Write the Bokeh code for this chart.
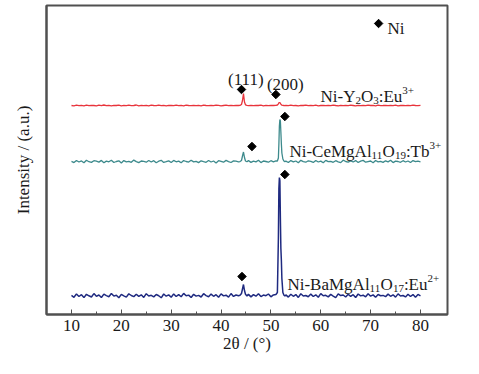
from bokeh.plotting import figure
from bokeh.models import Label, FixedTicker, Range1d
from bokeh.embed import file_html
from bokeh.resources import INLINE

# ---------------- data ----------------
two_theta = [
    10.0, 10.5, 11.0, 11.5, 12.0, 12.5, 13.0, 13.5, 14.0, 14.5, 15.0, 15.5, 16.0, 16.5, 17.0, 17.5, 18.0, 18.5, 19.0, 19.5,
    20.0, 20.5, 21.0, 21.5, 22.0, 22.5, 23.0, 23.5, 24.0, 24.5, 25.0, 25.5, 26.0, 26.5, 27.0, 27.5, 28.0, 28.5, 29.0, 29.5,
    30.0, 30.5, 31.0, 31.5, 32.0, 32.5, 33.0, 33.5, 34.0, 34.5, 35.0, 35.5, 36.0, 36.5, 37.0, 37.5, 38.0, 38.5, 39.0, 39.5,
    40.0, 40.5, 41.0, 41.5, 42.0, 42.5, 43.0, 43.5,
    43.8, 44.1, 44.3, 44.5, 44.7, 44.9, 45.2,
    45.5, 46.0, 46.5, 47.0, 47.5, 48.0, 48.5, 49.0, 49.5, 50.0, 50.5, 51.0,
    51.3, 51.5, 51.6, 51.7, 51.8, 51.9, 52.0, 52.1, 52.2, 52.4, 52.6, 52.8,
    53.0, 53.5, 54.0, 54.5, 55.0, 55.5, 56.0, 56.5, 57.0, 57.5, 58.0, 58.5, 59.0, 59.5, 60.0, 60.5, 61.0, 61.5, 62.0, 62.5,
    63.0, 63.5, 64.0, 64.5, 65.0, 65.5, 66.0, 66.5, 67.0, 67.5, 68.0, 68.5, 69.0, 69.5, 70.0, 70.5, 71.0, 71.5, 72.0, 72.5,
    73.0, 73.5, 74.0, 74.5, 75.0, 75.5, 76.0, 76.5, 77.0, 77.5, 78.0, 78.5, 79.0, 79.5, 80.0,
]

# Ni-BaMgAl11O17:Eu2+ (relative intensity, a.u.)
bam_intensity = [
    3.1, 1.2, 4.6, 2.0, 3.8, 0.9, 4.2, 2.7, 1.5, 4.9, 2.2, 3.5, 1.0, 4.4, 2.9, 1.8, 5.0, 2.4, 3.3, 0.8,
    4.1, 2.6, 1.4, 4.7, 3.0, 1.9, 4.3, 2.1, 3.7, 1.1, 4.8, 2.5, 3.2, 1.6, 4.0, 2.8, 0.7, 4.5, 2.3, 3.6,
    1.3, 4.6, 2.0, 3.9, 1.7, 5.1, 2.7, 3.4, 1.0, 4.2, 2.4, 3.1, 1.5, 4.8, 2.9, 1.8, 4.4, 2.2, 3.8, 1.2,
    4.6, 2.6, 3.3, 1.4, 4.9, 2.1, 3.5, 2.8,
    3.2, 5.0, 9.5, 14.0, 8.0, 4.2, 2.6,
    4.1, 1.6, 3.9, 2.3, 4.7, 1.9, 3.4, 2.8, 4.5, 1.7, 3.6, 4.0,
    6.0, 60.0, 110.0, 121.0, 118.0, 80.0, 50.0, 38.0, 20.0, 6.0, 3.5, 2.4,
    3.6, 1.4, 4.3, 2.2, 3.9, 1.1, 4.7, 2.5, 3.0, 1.8, 4.4, 2.0, 3.7, 1.3, 4.9, 2.7, 3.2, 1.6, 4.1, 2.4,
    0.9, 4.6, 2.9, 3.5, 1.5, 4.2, 2.1, 3.8, 1.0, 4.5, 2.6, 3.3, 1.7, 4.8, 2.3, 3.6, 1.2, 4.0, 2.8, 3.1,
    1.9, 4.4, 2.2, 3.7, 1.4, 4.6, 2.5, 3.0, 1.6, 4.3, 2.0, 3.9, 1.3, 4.1, 2.7,
]

# Ni-CeMgAl11O19:Tb3+
cmat_intensity = [
    2.6, 1.4, 3.5, 2.0, 3.1, 1.2, 3.7, 2.3, 1.6, 3.3, 2.8, 1.9, 3.6, 1.3, 2.9, 2.2, 3.8, 1.5, 2.5, 3.2,
    1.1, 3.4, 2.1, 2.7, 1.7, 3.9, 2.4, 1.4, 3.0, 2.6, 1.8, 3.5, 2.0, 3.3, 1.2, 2.8, 3.7, 1.6, 2.3, 3.1,
    1.5, 3.6, 2.2, 2.9, 1.3, 3.4, 2.5, 1.9, 3.8, 2.1, 2.7, 1.4, 3.2, 2.4, 1.7, 3.5, 2.0, 3.0, 1.1, 3.3,
    2.6, 1.8, 3.6, 2.3, 1.5, 3.1, 2.8, 2.2,
    2.4, 3.5, 8.0, 12.0, 6.5, 3.0, 2.2,
    3.4, 1.6, 2.9, 2.1, 3.7, 1.4, 3.0, 2.5, 1.8, 3.3, 2.2, 3.1,
    3.0, 6.0, 20.0, 38.0, 44.5, 43.0, 32.0, 20.0, 11.0, 5.0, 3.0, 2.4,
    2.8, 1.5, 3.4, 2.1, 3.0, 1.3, 3.7, 2.4, 1.8, 3.2, 2.6, 1.6, 3.5, 2.0, 2.9, 1.2, 3.6, 2.3, 2.7, 1.7,
    3.3, 2.2, 1.4, 3.8, 2.5, 1.9, 3.1, 2.0, 3.4, 1.5, 2.8, 3.6, 1.8, 2.4, 3.0, 1.3, 3.5, 2.2, 2.7, 1.6,
    3.2, 2.1, 3.7, 1.4, 2.9, 2.5, 1.7, 3.3, 2.0, 3.0, 1.5, 3.4, 2.3, 2.8, 2.1,
]

# Ni-Y2O3:Eu3+
yox_intensity = [
    1.5, 1.2, 1.8, 1.4, 1.6, 1.1, 1.9, 1.3, 1.7, 1.5, 1.2, 1.8, 1.4, 2.0, 1.3, 1.6, 1.1, 1.7, 1.5, 1.9,
    1.2, 1.6, 1.4, 1.8, 1.3, 1.5, 2.0, 1.2, 1.7, 1.4, 1.6, 1.1, 1.8, 1.5, 1.3, 1.9, 1.4, 1.6, 1.2, 1.7,
    1.5, 1.3, 1.8, 1.4, 1.6, 1.2, 1.9, 1.5, 1.3, 1.7, 1.4, 1.6, 1.1, 1.8, 1.5, 1.3, 1.7, 1.4, 1.9, 1.6,
    1.2, 1.5, 1.8, 1.3, 1.6, 1.4, 1.7, 1.5,
    1.6, 2.5, 6.5, 13.5, 5.0, 2.2, 1.7,
    1.4, 1.7, 1.3, 1.6, 1.5, 1.8, 1.2, 1.6, 1.4, 1.7, 1.5, 1.6,
    2.0, 3.2, 4.2, 4.5, 4.3, 3.6, 2.8, 2.2, 1.8, 1.6, 1.5, 1.4,
    1.6, 1.3, 1.8, 1.4, 1.5, 1.2, 1.7, 1.5, 1.9, 1.3, 1.6, 1.4, 1.8, 1.2, 1.5, 1.7, 1.3, 1.6, 1.4, 1.9,
    1.5, 1.2, 1.7, 1.4, 1.6, 1.3, 1.8, 1.5, 1.2, 1.6, 1.4, 1.7, 1.3, 1.9, 1.5, 1.6, 1.2, 1.8, 1.4, 1.5,
    1.7, 1.3, 1.6, 1.4, 1.9, 1.2, 1.5, 1.7, 1.3, 1.6, 1.4, 1.8, 1.5, 1.3, 1.6,
]

# vertical stacking offsets of the three patterns
bam_offset = 16.0
cmat_offset = 150.5
yox_offset = 207.5

# Ni reflection markers (2theta, stacked intensity)
ni_marker_x = [44.1, 51.0, 46.2, 52.8, 44.2, 52.8]
ni_marker_y = [225, 220, 168, 198, 38, 140]

x_ticks = [10, 20, 30, 40, 50, 60, 70, 80]
x_minor = [15, 25, 35, 45, 55, 65, 75]

FONT = "Liberation Serif"
TXT = "#1a1a1a"
FRAME = "#505050"

p = figure(width=463, height=358, output_backend="svg", toolbar_location=None,
           x_range=Range1d(4.99, 85.42), y_range=Range1d(0, 309),
           min_border_left=46, min_border_right=16, min_border_top=5, min_border_bottom=44)
p.xgrid.visible = False
p.ygrid.visible = False
p.background_fill_color = "white"
p.border_fill_color = "white"
p.outline_line_color = FRAME
p.outline_line_width = 2

xa = p.xaxis[0]
xa.ticker = FixedTicker(ticks=x_ticks, minor_ticks=x_minor)
xa.major_tick_in = 5
xa.major_tick_out = 0
xa.minor_tick_in = 3
xa.minor_tick_out = 0
xa.major_tick_line_color = FRAME
xa.minor_tick_line_color = FRAME
xa.axis_line_color = FRAME
xa.axis_line_width = 2
xa.major_label_text_font = FONT
xa.major_label_text_font_size = "17px"
xa.major_label_text_color = TXT
xa.major_label_standoff = 5
xa.axis_label = "2θ / (°)"
xa.axis_label_text_font = FONT
xa.axis_label_text_font_style = "normal"
xa.axis_label_text_font_size = "17px"
xa.axis_label_text_color = TXT
xa.axis_label_standoff = 0

ya = p.yaxis[0]
ya.ticker = FixedTicker(ticks=[])
ya.major_tick_line_color = None
ya.minor_tick_line_color = None
ya.axis_line_color = FRAME
ya.axis_line_width = 2
ya.axis_label = "Intensity / (a.u.)"
ya.axis_label_text_font = FONT
ya.axis_label_text_font_style = "normal"
ya.axis_label_text_font_size = "17px"
ya.axis_label_text_color = TXT
ya.axis_label_standoff = 14

p.line(two_theta, [v + bam_offset for v in bam_intensity], line_color="#1f2a80", line_width=1.5)
p.line(two_theta, [v + cmat_offset for v in cmat_intensity], line_color="#3d8a8c", line_width=1.3)
p.line(two_theta, [v + yox_offset for v in yox_intensity], line_color="#e8343c", line_width=1.3)

p.scatter(ni_marker_x, ni_marker_y, marker="square", angle=0.785398, size=6,
          fill_color="black", line_color="black")
p.scatter([71.6], [291], marker="square", angle=0.785398, size=6,
          fill_color="black", line_color="black")

W = {"N": 722, "i": 278, "-": 333, "Y": 722, "O": 722, ":": 278, "E": 611, "u": 500,
     "C": 667, "e": 444, "M": 889, "g": 500, "A": 722, "l": 278, "T": 611, "b": 500,
     "B": 667, "a": 444, "+": 564, "(": 333, ")": 333, " ": 250, "/": 278, "°": 400}


def tw(s, size):
    return sum(W.get(c, 500) for c in s) * size / 1000.0


def rich(x, y, parts, main=17, small=11):
    dx = 0.0
    for txt, kind in parts:
        size = main if kind == "m" else small
        dy = {"m": 0, "sub": -3.5, "sup": 6.5}[kind]
        p.add_layout(Label(x=x, y=y, x_offset=dx, y_offset=dy, text=txt,
                           text_font=FONT, text_font_size=f"{size}px",
                           text_color=TXT, text_align="left", text_baseline="alphabetic"))
        dx += tw(txt, size)


rich(59.94, 218, [("Ni-Y", "m"), ("2", "sub"), ("O", "m"), ("3", "sub"), (":Eu", "m"), ("3+", "sup")])
rich(53.72, 163, [("Ni-CeMgAl", "m"), ("11", "sub"), ("O", "m"), ("19", "sub"), (":Tb", "m"), ("3+", "sup")])
rich(53.32, 30, [("Ni-BaMgAl", "m"), ("11", "sub"), ("O", "m"), ("17", "sub"), (":Eu", "m"), ("2+", "sup")])
rich(73.38, 286, [("Ni", "m")])
rich(45.1 - tw("(111)", 17) / 2 / 4.9857, 235, [("(111)", "m")])
rich(52.9 - tw("(200)", 17) / 2 / 4.9857, 230, [("(200)", "m")])

open("out.html", "w").write(file_html(p, INLINE))
